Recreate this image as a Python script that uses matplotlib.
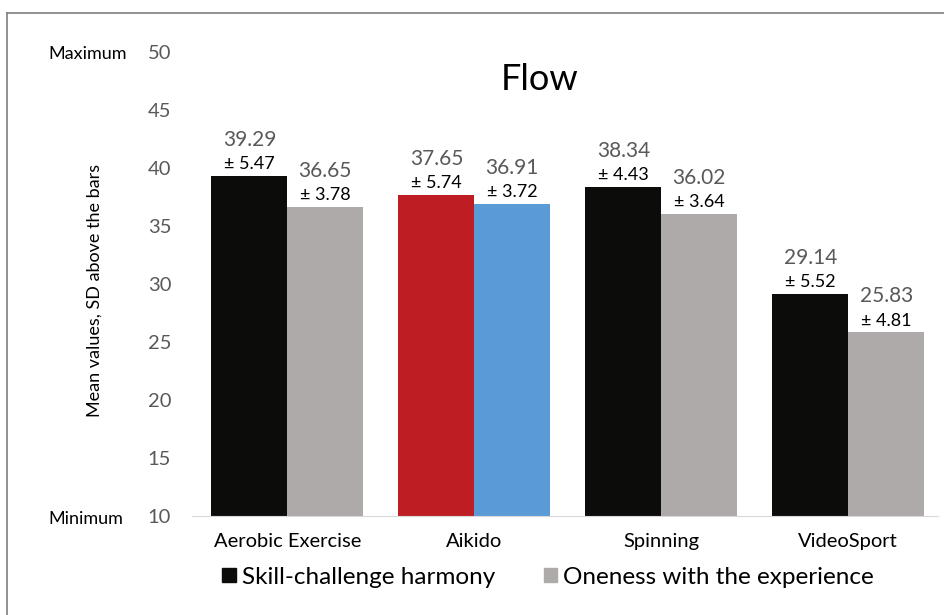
import matplotlib
matplotlib.use("Agg")
import matplotlib.pyplot as plt
from matplotlib.lines import Line2D
from matplotlib.patches import Patch

categories = ["Aerobic Exercise", "Aikido", "Spinning", "VideoSport"]
skill_mean = [39.29, 37.65, 38.34, 29.14]
skill_sd = [5.47, 5.74, 4.43, 5.52]
oneness_mean = [36.65, 36.91, 36.02, 25.83]
oneness_sd = [3.78, 3.72, 3.64, 4.81]
yticks = [10, 15, 20, 25, 30, 35, 40, 45, 50]

skill_colors = ["#0c0d0b", "#be1e23", "#0c0d0b", "#0c0d0b"]
oneness_colors = ["#aeaaaa", "#5b9bd5", "#aeaaaa", "#aeaaaa"]

plt.rcParams['font.family'] = ['Lato', 'DejaVu Sans']

W, H = 945, 615
fig = plt.figure(figsize=(W/100, H/100), dpi=100)

left, right, top, bottom = 192, 938, 52, 516
ax = fig.add_axes([left/W, 1-bottom/H, (right-left)/W, (bottom-top)/H])

x = list(range(len(categories)))
bw = 0.406
xs1 = [i - bw/2 for i in x]
xs2 = [i + bw/2 for i in x]
ax.bar(xs1, [m - 10 for m in skill_mean], bottom=10, width=bw, color=skill_colors)
ax.bar(xs2, [m - 10 for m in oneness_mean], bottom=10, width=bw, color=oneness_colors)

ax.set_ylim(10, 50)
ax.set_xlim(-0.51, 3.48)
ax.set_yticks(yticks)
ax.set_yticklabels([str(t) for t in yticks], color="#595959", fontsize=14.5)
ax.tick_params(axis='y', length=0, pad=15)
ax.set_xticks(x)
ax.set_xticklabels(categories, fontsize=14.5, color="black")
ax.tick_params(axis='x', length=0, pad=12)
for s in ["top", "right", "left"]:
    ax.spines[s].set_visible(False)
ax.spines["bottom"].set_color("#d9d9d9")

for xs, means, sds in [(xs1, skill_mean, skill_sd), (xs2, oneness_mean, oneness_sd)]:
    for xi, m, sd in zip(xs, means, sds):
        ax.annotate(f"\u00b1 {sd:.2f}", (xi, m), xytext=(0, 8.5), textcoords="offset points",
                    ha="center", va="center", fontsize=13, color="black")
        ax.annotate(f"{m:.2f}", (xi, m), xytext=(0, 26), textcoords="offset points",
                    ha="center", va="center", fontsize=15, color="#595959")

fig.text(540/W, 1-80/H, "Flow", ha="center", va="center", fontsize=26, color="black")
fig.text(48/W, 1-54/H, "Maximum", ha="left", va="center", fontsize=13, color="black")
fig.text(48/W, 1-519/H, "Minimum", ha="left", va="center", fontsize=13, color="black")
fig.text(95/W, 1-290/H, "Mean values, SD above the bars", ha="center", va="center",
         rotation=90, fontsize=13, color="black")

handles = [Patch(color="#0c0d0b"), Patch(color="#aeaaaa")]
fig.legend(handles, ["Skill-challenge harmony", "Oneness with the experience"],
           loc="center", bbox_to_anchor=(548/W, 1-577/H), ncol=2, frameon=False,
           fontsize=17.5, handlelength=0.55, handleheight=0.55, handletextpad=0.25,
           columnspacing=2.0)

fig.add_artist(Line2D([7/W, 7/W], [0, 1-13/H], color="#7f7f7f", lw=1.2))
fig.add_artist(Line2D([7/W, 1], [1-13/H, 1-13/H], color="#7f7f7f", lw=1.2))

fig.savefig("out.png", dpi=100)
